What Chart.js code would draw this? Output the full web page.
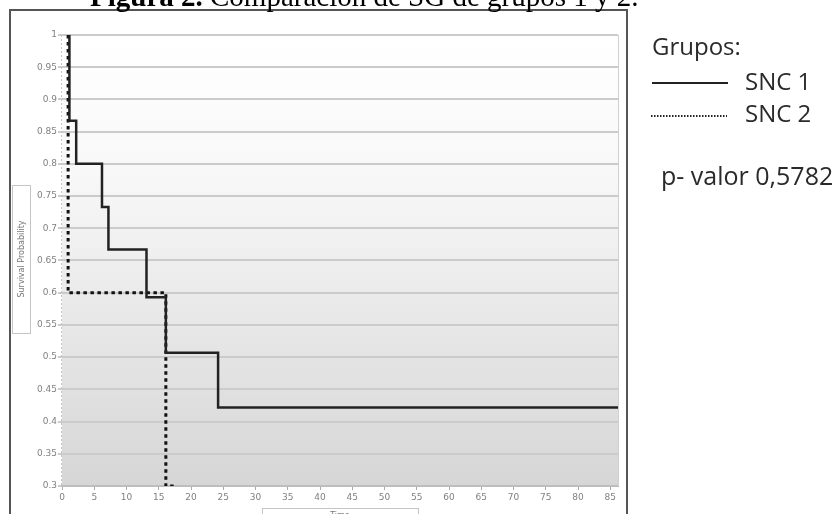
<!DOCTYPE html>
<html>
<head>
<meta charset="utf-8">
<script src="https://cdn.jsdelivr.net/npm/chart.js@4/dist/chart.umd.min.js"></script>
<style>
  html, body { margin: 0; padding: 0; background: #fff; }
  #caja { width: 839px; height: 514px; }
</style>
</head>
<body>
<div id="caja"><canvas id="grafico"></canvas></div>
<script>
// datos (tiempo en meses, supervivencia)
const tiempoSNC1 = [1.15, 1.15, 2.2, 6.2, 7.2, 13.1, 16.1, 24.2, 86.2];
const supervSNC1 = [1, 0.867, 0.8, 0.733, 0.667, 0.593, 0.507, 0.422, 0.422];
const tiempoSNC2 = [0.95, 0.95, 16.1, 17.8];
const supervSNC2 = [1, 0.6, 0.3, 0.3];

const ticksX = [0, 5, 10, 15, 20, 25, 30, 35, 40, 45, 50, 55, 60, 65, 70, 75, 80, 85];
const ticksY = [0.3, 0.35, 0.4, 0.45, 0.5, 0.55, 0.6, 0.65, 0.7, 0.75, 0.8, 0.85, 0.9, 0.95, 1];
const etiquetasY = ["0.3", "0.35", "0.4", "0.45", "0.5", "0.55", "0.6", "0.65", "0.7", "0.75", "0.8", "0.85", "0.9", "0.95", "1"];

const grupos = ["SNC 1", "SNC 2"];
const pValor = "p- valor 0,5782";

function puntos(xs, ys) {
  return xs.map((x, i) => ({ x: x, y: ys[i] }));
}

const decoracion = {
  id: "decoracion",
  beforeDraw(chart) {
    const c = chart.ctx;
    const a = chart.chartArea;
    c.save();
    c.fillStyle = "#fff";
    c.fillRect(0, 0, chart.width, chart.height);
    const g = c.createLinearGradient(0, a.top, 0, a.bottom);
    g.addColorStop(0, "#ffffff");
    g.addColorStop(0.3, "#f8f8f8");
    g.addColorStop(1, "#d6d6d6");
    c.fillStyle = g;
    c.fillRect(a.left, a.top, a.right - a.left, a.bottom - a.top);
    c.restore();
  },
  afterDraw(chart) {
    const c = chart.ctx;
    const a = chart.chartArea;
    c.save();

    // eje y punteado y borde derecho del area
    c.strokeStyle = "#c4c4c4";
    c.lineWidth = 1;
    c.setLineDash([2, 2]);
    c.beginPath();
    c.moveTo(a.left - 0.5, a.top);
    c.lineTo(a.left - 0.5, a.bottom);
    c.stroke();
    c.setLineDash([]);
    c.strokeStyle = "#d0d0d0";
    c.beginPath();
    c.moveTo(a.right + 0.5, a.top);
    c.lineTo(a.right + 0.5, a.bottom);
    c.stroke();

    // marco exterior
    c.strokeStyle = "#555";
    c.lineWidth = 2;
    c.beginPath();
    c.moveTo(10, 520);
    c.lineTo(10, 10);
    c.lineTo(627, 10);
    c.lineTo(627, 520);
    c.stroke();

    // titulo del eje y
    c.strokeStyle = "#c4c4c4";
    c.lineWidth = 1;
    c.strokeRect(12.5, 185.5, 18, 148);
    c.fillStyle = "#777";
    c.font = "8px 'DejaVu Sans'";
    c.textAlign = "center";
    c.textBaseline = "middle";
    c.translate(22, 259);
    c.rotate(-Math.PI / 2);
    c.fillText("Survival Probability", 0, 0);
    c.setTransform(1, 0, 0, 1, 0, 0);

    // titulo del eje x
    c.strokeRect(262.5, 508.5, 156, 20);
    c.textBaseline = "top";
    c.fillText("Time", 340, 512);

    // titulo de la figura
    c.fillStyle = "#000";
    c.textAlign = "left";
    c.textBaseline = "alphabetic";
    c.font = "bold 29px 'Liberation Serif'";
    const negrita = "Figura 2.";
    c.fillText(negrita, 90, 6);
    const w = c.measureText(negrita).width;
    c.font = "29px 'Liberation Serif'";
    c.fillText(" Comparación de SG de grupos 1 y 2.", 90 + w, 6);

    // leyenda
    c.fillStyle = "#2a2a2a";
    c.font = "24px 'Open Sans'";
    c.fillText("Grupos:", 652, 55);
    c.fillText(grupos[0], 745, 90);
    c.fillText(grupos[1], 745, 122);
    c.font = "25px 'Open Sans'";
    c.fillText(pValor, 661, 185);

    c.strokeStyle = "#222";
    c.lineWidth = 2;
    c.beginPath();
    c.moveTo(652, 83);
    c.lineTo(728, 83);
    c.stroke();
    c.setLineDash([1.5, 1.5]);
    c.beginPath();
    c.moveTo(651, 116);
    c.lineTo(727, 116);
    c.stroke();
    c.restore();
  }
};

const ctx = document.getElementById("grafico").getContext("2d");

const grafico = new Chart(ctx, {
  type: "line",
  data: {
    datasets: [
      {
        label: grupos[0],
        data: puntos(tiempoSNC1, supervSNC1),
        stepped: "before",
        borderColor: "#222",
        borderWidth: 2.5,
        pointRadius: 0,
        fill: false
      },
      {
        label: grupos[1],
        data: puntos(tiempoSNC2, supervSNC2),
        stepped: "before",
        borderColor: "#111",
        borderWidth: 3,
        borderDash: [3.5, 3.5],
        borderCapStyle: "butt",
        pointRadius: 0,
        fill: false
      }
    ]
  },
  options: {
    responsive: true,
    maintainAspectRatio: false,
    animation: false,
    layout: { padding: { left: 32, right: 221, top: 35, bottom: 0 } },
    plugins: {
      legend: { display: false },
      tooltip: { enabled: false },
      title: { display: false }
    },
    scales: {
      x: {
        type: "linear",
        min: 0,
        max: 86.2,
        afterBuildTicks: (s) => { s.ticks = ticksX.map(v => ({ value: v })); },
        afterFit: (s) => { s.height = 28; },
        grid: {
          drawOnChartArea: false,
          drawTicks: true,
          tickLength: 4,
          color: "#aaa"
        },
        border: { color: "#bdbdbd", width: 2 },
        ticks: {
          color: "#808080",
          font: { family: "DejaVu Sans", size: 9 },
          padding: 2,
          maxRotation: 0,
          autoSkip: false
        }
      },
      y: {
        min: 0.3,
        max: 1,
        afterBuildTicks: (s) => { s.ticks = ticksY.map(v => ({ value: v })); },
        afterFit: (s) => { s.width = 30; },
        grid: {
          color: "#cbcbcb",
          lineWidth: 2,
          drawTicks: true,
          tickLength: 4
        },
        border: { display: false },
        ticks: {
          color: "#808080",
          font: { family: "DejaVu Sans", size: 9 },
          padding: 1,
          autoSkip: false,
          callback: (v, i) => etiquetasY[i]
        }
      }
    }
  },
  plugins: [decoracion]
});
</script>
</body>
</html>
